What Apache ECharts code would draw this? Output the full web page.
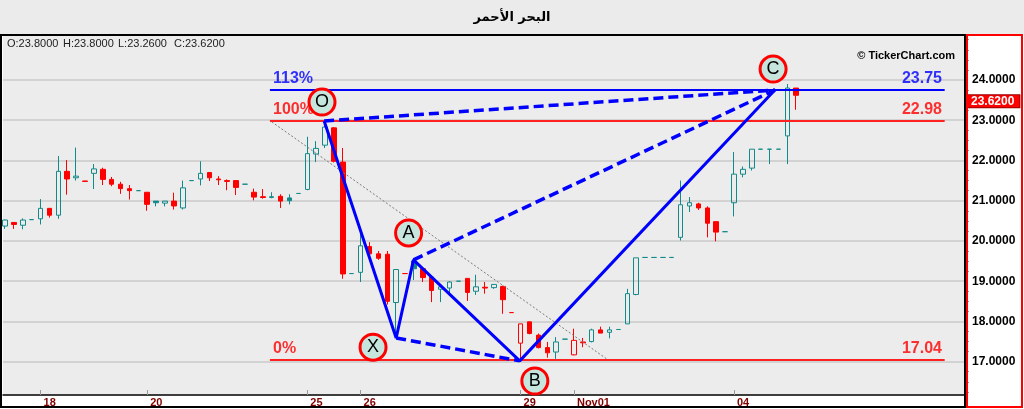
<!DOCTYPE html>
<html><head><meta charset="utf-8">
<script src="https://cdn.jsdelivr.net/npm/echarts@6/dist/echarts.min.js"></script>
<style>html,body{margin:0;padding:0;background:#fff}#c{width:1024px;height:409px}</style>
</head><body><div id="c"></div>
<script>
const chartTitle = 'البحر الأحمر';
const dayTickIndex = [4, 16, 34, 40, 58, 64, 82];
const dayLabels = ['18', '20', '25', '26', '29', 'Nov01', '04'];
const priceTicks = [17, 18, 19, 20, 21, 22, 23, 24];
const minorPriceTicks = [16.25,16.5,16.75,17.25,17.5,17.75,18.25,18.5,18.75,19.25,19.5,19.75,20.25,20.5,20.75,21.25,21.5,21.75,22.25,22.5,22.75,23.25,23.5,23.75,24.25,24.5,24.75,25];

const opens = [20.37,20.46,20.39,20.53,20.55,20.81,20.64,21.73,21.57,21.49,
21.68,21.78,21.53,21.41,21.30,21.25,21.21,20.99,20.94,20.99,
20.82,21.50,21.54,21.70,21.54,21.50,21.50,21.41,21.21,21.10,
21.08,21.11,21.07,21.18,21.28,22.16,22.38,22.81,21.96,19.19,
19.22,19.86,19.68,19.67,18.47,19.19,19.50,19.31,19.10,18.80,
18.83,19.00,19.07,18.75,18.85,18.84,18.87,18.22,17.46,17.99,
17.66,17.35,17.24,17.56,17.17,17.49,17.50,17.79,17.73,17.80,
17.94,18.67,19.59,19.59,19.59,19.59,20.09,20.87,20.92,20.82,
20.48,20.23,20.95,21.66,21.81,22.28,22.28,22.28,22.61,23.80];
const closes = [20.52,20.41,20.52,20.53,20.81,20.64,21.73,21.54,21.61,21.48,
21.79,21.53,21.41,21.30,21.25,21.25,20.91,20.95,20.99,20.87,
21.32,21.50,21.68,21.57,21.52,21.48,21.33,21.41,21.09,21.08,
21.10,20.99,21.00,21.18,22.17,22.30,22.83,21.98,19.18,19.19,
19.88,19.68,19.57,18.50,19.29,19.19,19.31,19.09,18.77,18.86,
18.98,19.00,18.72,18.86,18.83,18.92,18.54,18.22,17.94,17.70,
17.35,17.22,17.49,17.56,17.53,17.47,17.79,17.71,17.79,17.80,
18.69,19.58,19.59,19.59,19.59,19.59,20.90,20.95,20.82,20.44,
20.22,20.23,21.66,21.78,22.28,22.28,22.28,22.28,23.80,23.62];
const lows = [20.30,20.30,20.29,20.53,20.41,20.58,20.55,21.15,21.50,21.48,
21.29,21.39,21.36,21.17,21.03,21.25,20.75,20.86,20.86,20.78,
20.78,21.50,21.38,21.49,21.39,21.26,21.14,21.41,21.01,21.05,
21.06,20.82,20.91,21.18,21.26,21.96,22.31,21.95,19.06,19.19,
18.98,19.51,19.53,18.42,17.60,19.19,19.03,18.98,18.48,18.48,
18.65,19.00,18.51,18.66,18.69,18.81,18.19,18.22,17.04,17.68,
17.33,17.10,17.07,17.56,17.16,17.36,17.48,17.71,17.58,17.80,
17.94,18.65,19.59,19.59,19.59,19.59,20.01,20.72,20.77,20.09,
19.99,20.23,20.61,21.58,21.75,22.28,21.91,22.28,21.91,23.26];
const highs = [20.53,20.46,20.56,20.53,21.04,20.81,22.11,22.01,22.32,21.49,
21.91,21.82,21.59,21.47,21.39,21.25,21.21,20.99,20.99,21.20,
21.50,21.50,21.98,21.70,21.61,21.53,21.50,21.41,21.30,21.29,
21.21,21.16,21.16,21.18,22.59,22.48,22.98,22.83,22.31,19.19,
20.26,19.97,19.75,19.75,19.29,19.19,19.53,19.33,19.12,18.87,
19.00,19.00,19.07,19.16,18.98,18.93,18.89,18.22,17.94,17.99,
17.70,17.49,17.61,17.56,17.82,17.59,17.82,17.87,17.87,17.80,
18.81,19.58,19.59,19.59,19.59,19.59,21.50,21.09,20.95,20.86,
20.48,20.23,22.21,21.85,22.28,22.28,22.28,22.28,23.90,23.80];

const fibLevels = [23.75, 22.98, 17.04];
const fibNames = ['113%', '100%', '0%'];
const fibRange = [29.8, 105.7];
const patternNames = ['O', 'X', 'A', 'B', 'C'];
const patternX = [35.9, 44.0, 45.95, 57.9, 86.6];
const patternY = [22.98, 17.59, 19.53, 17.02, 23.75];
const markerX = [35.66, 41.4, 45.4, 59.6, 86.4];
const markerY = [23.45, 17.36, 20.2, 16.52, 24.27];
const trendX = [30.0, 67.8];
const trendY = [22.96, 17.05];

const TEAL = '#138a8a', RED = '#ff0000', BLUE = '#0000ff';
const xMin = -0.225, xMax = 108.1;
const yMin = 16.172, yMax = 25.093;

const candleData = opens.map((o, i) => {
  const c = closes[i];
  const prev = i > 0 ? closes[i - 1] : c;
  const col = c >= prev ? TEAL : RED;
  const fill = c < o ? col : 'rgba(0,0,0,0)';
  return {
    value: [i, o, c, lows[i], highs[i]],
    itemStyle: { color: fill, color0: fill, borderColor: col, borderColor0: col, borderColorDoji: col }
  };
});
const last = opens.length - 1;

function seg(ax, ay) { return ax.map((x, i) => [x, ay[i]]); }
const P = patternNames.map((n, i) => [patternX[i], patternY[i]]);
const iO = 0, iX = 1, iA = 2, iB = 3, iC = 4;

const series = [
  {
    type: 'line', data: [], z: 1, silent: true,
    markLine: {
      z: 1, symbol: 'none', silent: true, animation: false,
      lineStyle: { color: '#d2d2d2', width: 2, type: 'solid' }, label: { show: false },
      data: priceTicks.map(v => ({ yAxis: v }))
    }
  },
  {
    type: 'candlestick', z: 3, barWidth: 5,
    encode: { x: 0, y: [1, 2, 3, 4] },
    data: candleData,
    markLine: {
      z: 6, symbol: 'none', silent: true, animation: false,
      data: [{ yAxis: closes[last] }],
      lineStyle: { color: 'rgba(0,0,0,0)', width: 0 },
      label: {
        position: 'end', distance: 0, offset: [0, 6],
        formatter: closes[last].toFixed(4), color: '#fff', backgroundColor: RED,
        borderColor: '#900', borderWidth: 1,
        fontWeight: 'bold', fontSize: 12, fontFamily: 'Liberation Sans', padding: [0, 5]
      }
    }
  }
];
fibLevels.forEach((lv, k) => {
  series.push({
    type: 'line', z: 4, symbol: 'none', silent: true,
    data: [[fibRange[0], lv], [fibRange[1], lv]],
    lineStyle: { color: k === 0 ? BLUE : '#ff2020', width: 2 }
  });
});
series.push({
  type: 'line', z: 4, symbol: 'none', silent: true,
  data: seg(trendX, trendY), lineStyle: { color: '#7a7a7a', width: 1, type: [2, 2] }
});
series.push({
  type: 'line', z: 5, symbol: 'none', silent: true,
  data: P, lineStyle: { color: BLUE, width: 3 }
});
[[iO, iC], [iA, iC], [iX, iB]].forEach(([a, b]) => {
  series.push({
    type: 'line', z: 5, symbol: 'none', silent: true,
    data: [P[a], P[b]], lineStyle: { color: BLUE, width: 3.5, type: [10, 5] }
  });
});
const fibLabelData = [];
fibLevels.forEach((lv, k) => {
  const col = k === 0 ? BLUE : RED;
  fibLabelData.push({ value: [30.15, lv + 0.28], name: fibNames[k], label: { position: 'right', color: col } });
  fibLabelData.push({ value: [105.4, lv + 0.28], name: lv.toFixed(2), label: { position: 'left', color: col } });
});
series.push({
  type: 'scatter', z: 6, symbolSize: 0, silent: true, data: fibLabelData,
  label: { show: true, distance: 0, formatter: p => p.name, fontSize: 16, fontWeight: 'bold', fontFamily: 'Liberation Sans' }
});
series.push({
  type: 'scatter', z: 8, silent: true, symbol: 'circle', symbolSize: 26,
  data: patternNames.map((n, i) => ({ value: [markerX[i], markerY[i]], name: n })),
  itemStyle: { color: '#c6e6dd', borderColor: RED, borderWidth: 3, opacity: 1 },
  label: { show: true, position: 'inside', formatter: p => p.name, color: '#000', fontSize: 18, fontFamily: 'Liberation Sans' }
});

const lbl = ['O', 'H', 'L', 'C'];
const lv = [opens[last], highs[last], lows[last], closes[last]];
const ohlcX = [7, 63, 118, 174];

const option = {
  animation: false,
  backgroundColor: '#ffffff',
  grid: { left: 3, right: 58, top: 36, bottom: 14, show: true, backgroundColor: '#ececec', borderWidth: 0 },
  xAxis: {
    type: 'value', min: xMin, max: xMax,
    axisLine: { show: true, onZero: false, lineStyle: { color: '#000', width: 1.5 } },
    axisTick: { show: true, inside: true, length: 5, customValues: dayTickIndex, lineStyle: { color: '#999' } },
    axisLabel: {
      customValues: dayTickIndex, margin: 2, align: 'left', padding: [0, 0, 0, 3],
      formatter: v => dayLabels[dayTickIndex.indexOf(Math.round(v))] || '',
      color: '#800000', fontWeight: 'bold', fontSize: 11, fontFamily: 'Liberation Sans'
    },
    splitLine: { show: false }
  },
  yAxis: [{
    type: 'value', position: 'right', min: yMin, max: yMax,
    axisLine: { show: false },
    axisTick: { show: true, length: 5, customValues: priceTicks, lineStyle: { color: '#666' } },
    axisLabel: {
      customValues: priceTicks, margin: 6, formatter: v => v.toFixed(4),
      color: '#000', fontWeight: 'bold', fontSize: 12, fontFamily: 'Liberation Sans'
    },
    splitLine: { show: false }
  }, {
    type: 'value', position: 'right', min: yMin, max: yMax,
    axisLine: { show: false },
    axisTick: { show: true, length: 3, customValues: minorPriceTicks, lineStyle: { color: '#999' } },
    axisLabel: { show: false },
    splitLine: { show: false }
  }],
  series: series,
  graphic: [
    { type: 'rect', z: 100, shape: { x: 0, y: 0, width: 1024, height: 34 }, style: { fill: '#ebebeb' } },
    { type: 'text', z: 101, x: 512, y: 18, style: { text: chartTitle, fill: '#000', font: 'bold 13px "DejaVu Sans"', align: 'center', verticalAlign: 'middle' } },
    { type: 'rect', z: 100, shape: { x: 1, y: 35, width: 964, height: 372 }, style: { fill: 'none', stroke: '#000', lineWidth: 2 } },
    { type: 'rect', z: 100, shape: { x: 967, y: 35, width: 55, height: 372 }, style: { fill: 'none', stroke: RED, lineWidth: 2 } },
    { type: 'text', z: 101, x: 955, y: 56, style: { text: '© TickerChart.com', fill: '#000', font: 'bold 11px "Liberation Sans"', align: 'right', verticalAlign: 'middle' } }
  ].concat(lbl.map((t, k) => ({
    type: 'text', z: 101, x: ohlcX[k], y: 44,
    style: { text: t + ':' + lv[k].toFixed(4), fill: '#222', font: '11px "Liberation Sans"', align: 'left', verticalAlign: 'middle' }
  })))
};
const chart = echarts.init(document.getElementById('c'));
chart.setOption(option);
</script></body></html>
